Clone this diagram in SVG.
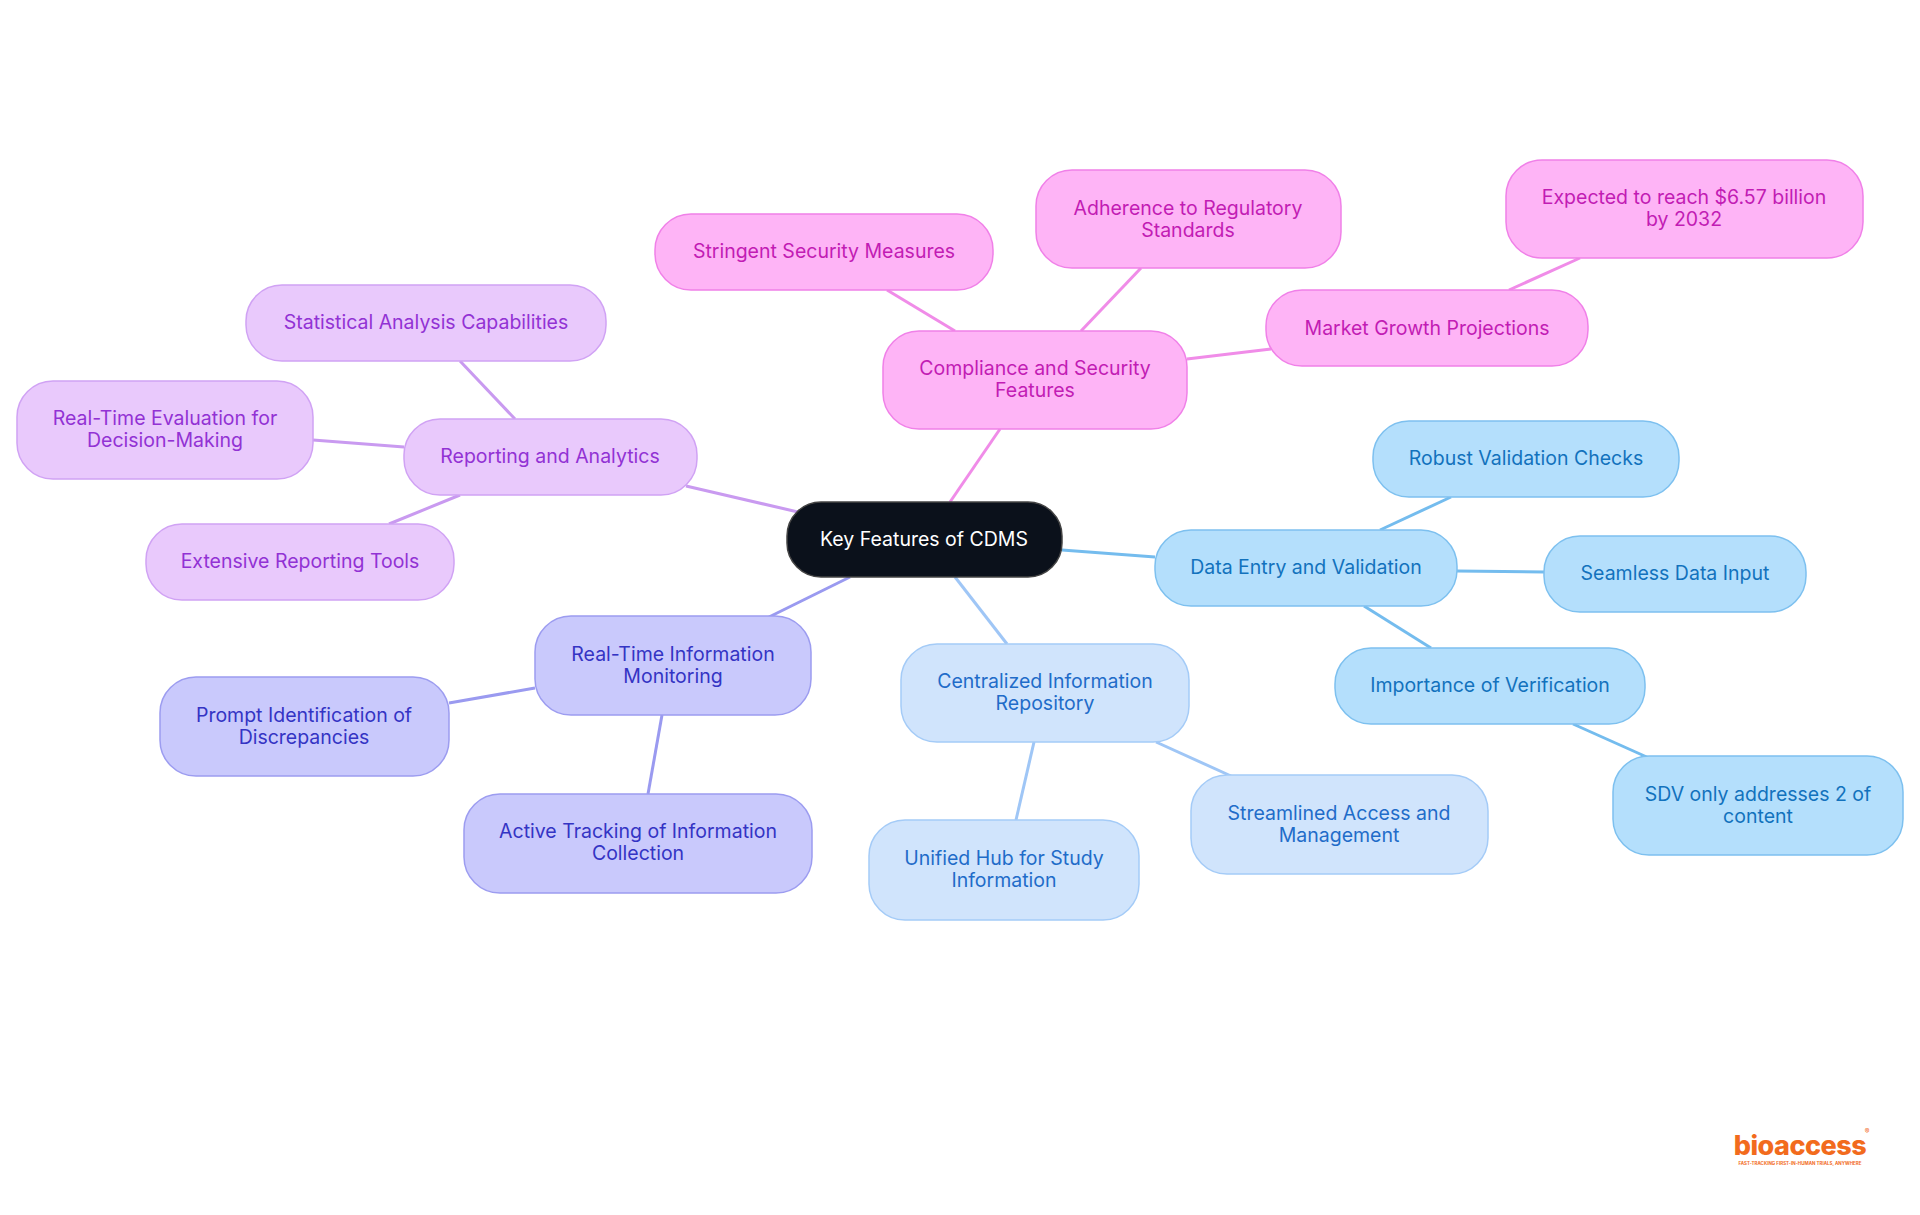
<svg xmlns="http://www.w3.org/2000/svg" width="1920" height="1215" viewBox="0 0 1920 1215">
<style>
text{font-family:Inter,"Noto Sans","Liberation Sans",sans-serif;font-size:19.5px;text-anchor:middle;dominant-baseline:central}
rect{stroke-width:1.5}
.pk rect{fill:#feb4f6;stroke:#f080e8}.pk text{fill:#c21cb4}
.pu rect{fill:#e9c9fc;stroke:#d0a2f4}.pu text{fill:#9232d4}
.in rect{fill:#c9c9fc;stroke:#9c9cf0}.in text{fill:#3434c4}
.lb rect{fill:#d0e4fc;stroke:#a4cbf7}.lb text{fill:#1f6cc9}
.bl rect{fill:#b4dffc;stroke:#7dc0ef}.bl text{fill:#1272bd}
#edges line{stroke-width:3;fill:none}
</style>
<rect width="1920" height="1215" fill="#fff" stroke="none"/>
<g id="edges">
<line x1="950" y1="502" x2="1000" y2="429" stroke="#f08ce8"/>
<line x1="955" y1="331" x2="887" y2="290" stroke="#f08ce8"/>
<line x1="1081" y1="331" x2="1141" y2="268" stroke="#f08ce8"/>
<line x1="1187" y1="359" x2="1271" y2="349" stroke="#f08ce8"/>
<line x1="1509" y1="290" x2="1580" y2="258" stroke="#f08ce8"/>
<line x1="798" y1="512" x2="686" y2="486" stroke="#c99af0"/>
<line x1="515" y1="419" x2="460" y2="361" stroke="#c99af0"/>
<line x1="404" y1="447" x2="313" y2="440" stroke="#c99af0"/>
<line x1="460" y1="495" x2="389" y2="524" stroke="#c99af0"/>
<line x1="850" y1="577" x2="769" y2="617" stroke="#9a9af0"/>
<line x1="535" y1="688" x2="449" y2="703" stroke="#9a9af0"/>
<line x1="662" y1="715" x2="648" y2="794" stroke="#9a9af0"/>
<line x1="955" y1="577" x2="1007" y2="644" stroke="#9fc6f6"/>
<line x1="1034" y1="742" x2="1016" y2="820" stroke="#9fc6f6"/>
<line x1="1156" y1="742" x2="1231" y2="776" stroke="#9fc6f6"/>
<line x1="1062" y1="550" x2="1155" y2="557" stroke="#74bcee"/>
<line x1="1380" y1="530" x2="1451" y2="497" stroke="#74bcee"/>
<line x1="1457" y1="571" x2="1544" y2="572" stroke="#74bcee"/>
<line x1="1364" y1="606" x2="1431" y2="648" stroke="#74bcee"/>
<line x1="1573" y1="724" x2="1649" y2="758" stroke="#74bcee"/>
</g>
<g id="root"><rect x="787" y="502" width="275" height="75" rx="34" fill="#0b111b" stroke="#444"/><text x="924" y="539" fill="#fff">Key Features of CDMS</text></g>
<g id="compliance" class="pk"><rect x="883" y="331" width="304" height="98" rx="36"/><text x="1035" y="368">Compliance and Security</text><text x="1035" y="390">Features</text></g>
<g id="stringent" class="pk"><rect x="655" y="214" width="338" height="76" rx="36"/><text x="824" y="251">Stringent Security Measures</text></g>
<g id="adherence" class="pk"><rect x="1036" y="170" width="305" height="98" rx="36"/><text x="1188" y="208">Adherence to Regulatory</text><text x="1188" y="230">Standards</text></g>
<g id="market" class="pk"><rect x="1266" y="290" width="322" height="76" rx="36"/><text x="1427" y="328">Market Growth Projections</text></g>
<g id="expected" class="pk"><rect x="1506" y="160" width="357" height="98" rx="36"/><text x="1684" y="197">Expected to reach $6.57 billion</text><text x="1684" y="219">by 2032</text></g>
<g id="reporting" class="pu"><rect x="404" y="419" width="293" height="76" rx="36"/><text x="550" y="456">Reporting and Analytics</text></g>
<g id="statistical" class="pu"><rect x="246" y="285" width="360" height="76" rx="36"/><text x="426" y="322">Statistical Analysis Capabilities</text></g>
<g id="rteval" class="pu"><rect x="17" y="381" width="296" height="98" rx="36"/><text x="165" y="418">Real-Time Evaluation for</text><text x="165" y="440">Decision-Making</text></g>
<g id="extensive" class="pu"><rect x="146" y="524" width="308" height="76" rx="36"/><text x="300" y="561">Extensive Reporting Tools</text></g>
<g id="rtinfo" class="in"><rect x="535" y="616" width="276" height="99" rx="36"/><text x="673" y="654">Real-Time Information</text><text x="673" y="676">Monitoring</text></g>
<g id="prompt" class="in"><rect x="160" y="677" width="289" height="99" rx="36"/><text x="304" y="715">Prompt Identification of</text><text x="304" y="737">Discrepancies</text></g>
<g id="active" class="in"><rect x="464" y="794" width="348" height="99" rx="36"/><text x="638" y="831">Active Tracking of Information</text><text x="638" y="853">Collection</text></g>
<g id="central" class="lb"><rect x="901" y="644" width="288" height="98" rx="36"/><text x="1045" y="681">Centralized Information</text><text x="1045" y="703">Repository</text></g>
<g id="unified" class="lb"><rect x="869" y="820" width="270" height="100" rx="36"/><text x="1004" y="858">Unified Hub for Study</text><text x="1004" y="880">Information</text></g>
<g id="streamlined" class="lb"><rect x="1191" y="775" width="297" height="99" rx="36"/><text x="1339" y="813">Streamlined Access and</text><text x="1339" y="835">Management</text></g>
<g id="dataentry" class="bl"><rect x="1155" y="530" width="302" height="76" rx="36"/><text x="1306" y="567">Data Entry and Validation</text></g>
<g id="robust" class="bl"><rect x="1373" y="421" width="306" height="76" rx="36"/><text x="1526" y="458">Robust Validation Checks</text></g>
<g id="seamless" class="bl"><rect x="1544" y="536" width="262" height="76" rx="36"/><text x="1675" y="573">Seamless Data Input</text></g>
<g id="importance" class="bl"><rect x="1335" y="648" width="310" height="76" rx="36"/><text x="1490" y="685">Importance of Verification</text></g>
<g id="sdv" class="bl"><rect x="1613" y="756" width="290" height="99" rx="36"/><text x="1758" y="794">SDV only addresses 2 of</text><text x="1758" y="816">content</text></g>
<g id="logo"><text x="1800" y="1145" style="font-size:27px;font-weight:800;fill:#f26b1d;letter-spacing:-0.5px">bioaccess</text><text x="1867" y="1131" style="font-size:7px;fill:#f26b1d">®</text><text x="1800" y="1163" style="font-size:4.5px;font-weight:700;fill:#f26b1d">FAST-TRACKING FIRST-IN-HUMAN TRIALS, ANYWHERE</text></g>
</svg>
